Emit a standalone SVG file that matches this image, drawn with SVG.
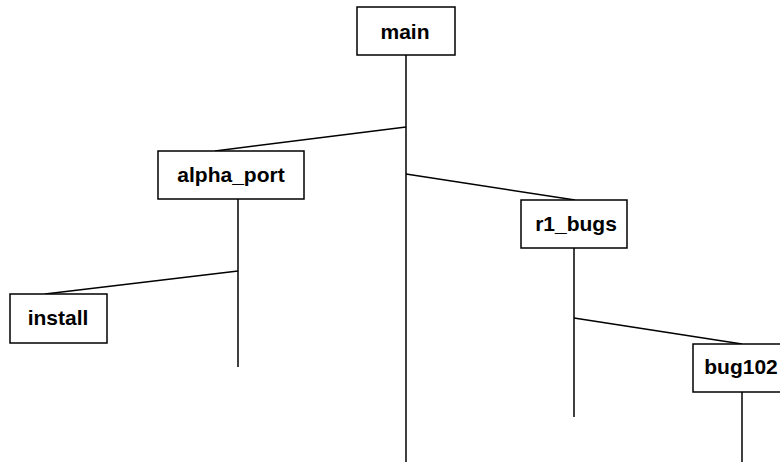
<svg xmlns="http://www.w3.org/2000/svg" width="780" height="462" viewBox="0 0 780 462">
  <style>
    .box { fill: #ffffff; stroke: #000000; stroke-width: 1.5; }
    .lbl { font-family: "Liberation Sans", Arial, Helvetica, sans-serif; font-weight: bold; font-size: 21px; fill: #000000; text-anchor: middle; }
    .edge { stroke: #000000; stroke-width: 1.5; fill: none; }
  </style>
  <rect width="780" height="462" fill="#ffffff"/>

  <!-- branch lines and connectors -->
  <g id="connectors">
    <line class="edge" x1="406" y1="55" x2="406" y2="462"/>
    <line class="edge" x1="406" y1="127" x2="215" y2="151"/>
    <line class="edge" x1="406" y1="174" x2="575" y2="200"/>
    <line class="edge" x1="238" y1="199" x2="238" y2="367"/>
    <line class="edge" x1="238" y1="271" x2="45" y2="294"/>
    <line class="edge" x1="574" y1="248" x2="574" y2="417"/>
    <line class="edge" x1="574" y1="318" x2="742" y2="344"/>
    <line class="edge" x1="742" y1="392" x2="742" y2="462"/>
  </g>

  <g id="main">
    <rect class="box" x="357" y="7" width="98" height="48"/>
    <text class="lbl" x="405" y="39">main</text>
  </g>

  <g id="alpha_port">
    <rect class="box" x="158" y="151" width="146" height="48"/>
    <text class="lbl" x="231" y="182">alpha_port</text>
  </g>

  <g id="install">
    <rect class="box" x="10" y="294" width="97" height="49"/>
    <text class="lbl" x="58" y="325">install</text>
  </g>

  <g id="r1_bugs">
    <rect class="box" x="521" y="200" width="106" height="48"/>
    <text class="lbl" x="576" y="231">r1_bugs</text>
  </g>

  <g id="bug102">
    <rect class="box" x="693" y="344" width="98" height="48"/>
    <text class="lbl" x="741" y="374">bug102</text>
  </g>
</svg>
